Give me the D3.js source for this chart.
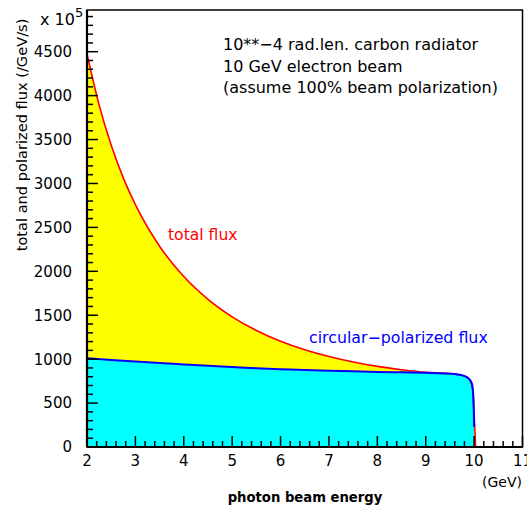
<!DOCTYPE html>
<html><head><meta charset="utf-8">
<script src="https://cdn.jsdelivr.net/npm/d3@7"></script>
<style>html,body{margin:0;padding:0;background:#fff;}svg{display:block;}text{font-family:"DejaVu Sans",sans-serif;}</style>
</head><body>
<script>
// photon energy (GeV) and total flux (x 10^5 /GeV/s)
const totalE    = [2.0, 2.25, 2.5, 2.75, 3.0, 3.5, 4.0, 4.5, 5.0, 5.5, 6.0, 6.5, 7.0, 7.5, 8.0, 8.5, 9.0, 9.4, 9.7, 9.8, 9.9, 9.95, 9.98, 10.0, 10.02, 10.03];
const totalFlux = [4474, 3895, 3436, 3064, 2758, 2285, 1940, 1681, 1482, 1327, 1205, 1108, 1030, 968, 918, 880, 850, 838, 822, 808, 772, 705, 600, 350, 150, 0];
// circular-polarized flux
const polE      = [2.0, 2.5, 3.0, 3.5, 4.0, 4.5, 5.0, 5.5, 6.0, 6.5, 7.0, 7.5, 8.0, 8.5, 9.0, 9.4, 9.6, 9.75, 9.85, 9.9, 9.94, 9.97, 9.985, 9.995, 10.0];
const polFlux   = [1010, 990, 972, 955, 940, 924, 910, 897, 886, 876, 868, 861, 855, 850, 845, 838, 830, 816, 795, 772, 740, 680, 560, 380, 230];
const xTicks = [2, 3, 4, 5, 6, 7, 8, 9, 10, 11];
const yTicks = [0, 500, 1000, 1500, 2000, 2500, 3000, 3500, 4000, 4500];
const infoLines = ["10**\u22124 rad.len. carbon radiator", "10 GeV electron beam", "(assume 100% beam polarization)"];

const W = 527, H = 508;
const svg = d3.select("body").append("svg").attr("width", W).attr("height", H);
const x = d3.scaleLinear().domain([2, 11]).range([87, 522.5]);
const y = d3.scaleLinear().domain([0, 4500]).range([447, 51.7]);
const yTop = 10;

const tot = totalE.map((e, i) => [e, totalFlux[i]]);
const pol = polE.map((e, i) => [e, polFlux[i]]);
const polFill = pol.concat([[10.0, 0]]);

const area = d3.area().x(d => x(d[0])).y0(y(0)).y1(d => y(d[1])).curve(d3.curveMonotoneX);
const line = d3.line().x(d => x(d[0])).y(d => y(d[1])).curve(d3.curveMonotoneX);

svg.append("path").datum(tot).attr("d", area).attr("fill", "#ffff00");
svg.append("path").datum(polFill).attr("d", area).attr("fill", "#00ffff");
svg.append("path").datum(tot).attr("d", line).attr("fill", "none").attr("stroke", "#ff0000").attr("stroke-width", 1.6);
svg.append("path").datum(pol).attr("d", line).attr("fill", "none").attr("stroke", "#0000ff").attr("stroke-width", 2);

// frame
svg.append("rect").attr("x", x(2)).attr("y", yTop).attr("width", x(11) - x(2)).attr("height", y(0) - yTop)
  .attr("fill", "none").attr("stroke", "#000").attr("stroke-width", 1.5);

// y axis ticks (inward)
const yMinor = d3.range(0, 4901, 100);
svg.append("g").selectAll("line").data(yMinor).join("line")
  .attr("x1", x(2)).attr("x2", d => x(2) + (d % 500 === 0 ? 11 : 6))
  .attr("y1", d => y(d)).attr("y2", d => y(d)).attr("stroke", "#000").attr("stroke-width", 1.5);
svg.append("line").attr("x1", x(2)).attr("x2", x(2)).attr("y1", yTop).attr("y2", y(0)).attr("stroke", "#000").attr("stroke-width", 2.2);
svg.append("g").selectAll("text").data(yTicks).join("text")
  .attr("x", 72).attr("y", d => y(d)).attr("dy", "0.36em").attr("text-anchor", "end")
  .attr("font-size", 15).text(d => d);

// x axis ticks (inward)
const xMinor = d3.range(0, 46).map(i => 2 + i * 0.2);
svg.append("g").selectAll("line").data(xMinor).join("line")
  .attr("x1", d => x(d)).attr("x2", d => x(d))
  .attr("y1", y(0)).attr("y2", (d, i) => y(0) - (i % 5 === 0 ? 11 : 6)).attr("stroke", "#000").attr("stroke-width", 1.5);
svg.append("line").attr("x1", x(2)).attr("x2", x(11)).attr("y1", y(0)).attr("y2", y(0)).attr("stroke", "#000").attr("stroke-width", 2.2);
svg.append("g").selectAll("text").data(xTicks).join("text")
  .attr("x", d => x(d)).attr("y", 466).attr("text-anchor", "middle")
  .attr("font-size", 15).text(d => d);

// axis titles
svg.append("text").attr("x", 522).attr("y", 487).attr("text-anchor", "end").attr("font-size", 14).text("(GeV)");
svg.append("text").attr("x", 305).attr("y", 502).attr("text-anchor", "middle").attr("font-size", 13.2).attr("font-weight", "bold").text("photon beam energy");
svg.append("text").attr("transform", "translate(27,135) rotate(-90)").attr("text-anchor", "middle").attr("font-size", 14.6).text("total and polarized flux (/GeV/s)");
const ex = svg.append("text").attr("x", 40).attr("y", 25).attr("font-size", 16);
ex.append("tspan").text("x 10");
ex.append("tspan").attr("dy", -8).attr("font-size", 13).text("5");

// info text
svg.append("g").selectAll("text").data(infoLines).join("text")
  .attr("x", 223).attr("y", (d, i) => 50 + i * 21.5).attr("font-size", 16).text(d => d);

svg.append("text").attr("x", 168).attr("y", 240).attr("font-size", 15.6).attr("fill", "#ff0000").text("total flux");
svg.append("text").attr("x", 309).attr("y", 343).attr("font-size", 15.8).attr("fill", "#0000ff").text("circular\u2212polarized flux");
</script>
</body></html>
